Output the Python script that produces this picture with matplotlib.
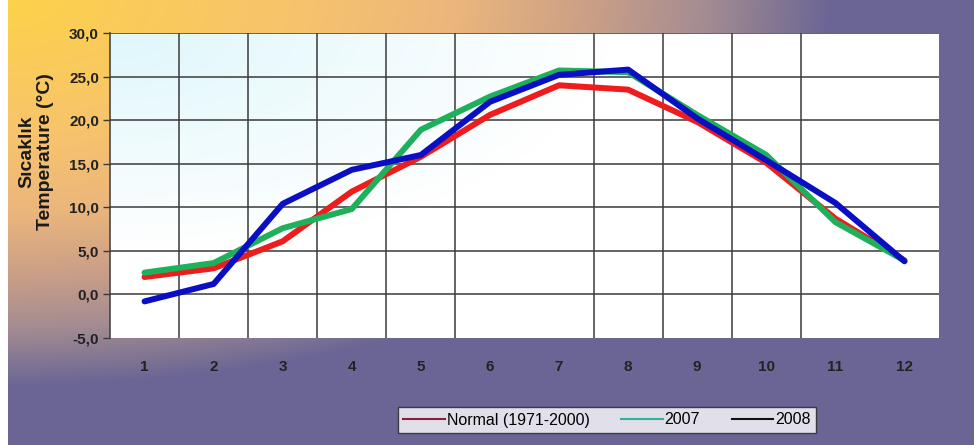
import numpy as np
import matplotlib
matplotlib.use("Agg")
import matplotlib.pyplot as plt
from matplotlib.lines import Line2D

plt.rcParams['font.family'] = ['Liberation Sans', 'DejaVu Sans']

# ---- data ----
months = [1, 2, 3, 4, 5, 6, 7, 8, 9, 10, 11, 12]
month_labels = ["1", "2", "3", "4", "5", "6", "7", "8", "9", "10", "11", "12"]
normal = [2.0, 3.0, 6.1, 11.8, 15.8, 20.6, 24.0, 23.5, 19.8, 15.1, 8.7, 3.9]
y2007 = [2.5, 3.6, 7.6, 9.8, 18.9, 22.7, 25.7, 25.5, 20.6, 16.0, 8.3, 3.9]
y2008 = [-0.8, 1.2, 10.4, 14.3, 16.0, 22.1, 25.2, 25.8, 20.2, 15.4, 10.5, 3.8]
series_names = ["Normal (1971-2000)", "2007", "2008"]
y_ticks = [-5, 0, 5, 10, 15, 20, 25, 30]

W, H = 974, 445
fig = plt.figure(figsize=(W / 100, H / 100), dpi=100)

# ---- background gradient ----
bg = fig.add_axes([0, 0, 1, 1], zorder=-10)
yy, xx = np.mgrid[0:H, 0:W]
t = np.clip(np.sqrt((xx / 830.0) ** 2 + (yy / 385.0) ** 2), 0, 1)
pos = [0.0, 0.35, 0.55, 0.72, 0.85, 0.97, 1.0]
cols = np.array([
    (253, 210, 74), (247, 196, 108), (235, 182, 124), (200, 158, 136),
    (164, 140, 146), (118, 110, 148), (107, 101, 150)]) / 255.0
img = np.zeros((H, W, 3))
for c in range(3):
    img[..., c] = np.interp(t, pos, cols[:, c])
img[:, :8, :] = 1.0
bg.imshow(img, extent=[0, 1, 0, 1], aspect='auto', origin='upper')
bg.set_axis_off()

# ---- main axes ----
ax = fig.add_axes([110 / W, 1 - 338 / H, 829 / W, 305 / H])
ax.set_xlim(0.5, 12.5)
ax.set_ylim(-5, 30)
ax.set_facecolor('white')

# light cyan tint top-left of plot area
ph, pw = 305, 829
py, px = np.mgrid[0:ph, 0:pw]
t2 = np.clip(np.sqrt((px / 500.0) ** 2 + (py / 220.0) ** 2), 0, 1)
tint = np.ones((ph, pw, 4))
tint[..., 0] = 224 / 255
tint[..., 1] = 247 / 255
tint[..., 2] = 252 / 255
tint[..., 3] = 1 - t2
ax.imshow(tint, extent=[0.5, 12.5, -5, 30], aspect='auto', origin='upper', zorder=0)

grid_c = '#3a3a3a'
for v in y_ticks[1:]:
    ax.axhline(v, color=grid_c, lw=1.1, zorder=1)
for b in [1.5, 2.5, 3.5, 4.5, 5.5, 7.5, 8.5, 9.5, 10.5]:
    ax.axvline(b, color=grid_c, lw=1.1, zorder=1)

lw = 4.3
ax.plot(months, normal, color='#ee1c1c', lw=lw, solid_capstyle='round', solid_joinstyle='round', zorder=3)
ax.plot(months, y2007, color='#1eb05a', lw=lw, solid_capstyle='round', solid_joinstyle='round', zorder=4)
ax.plot(months, y2008, color='#0a0fc4', lw=lw, solid_capstyle='round', solid_joinstyle='round', zorder=5)

for s in ['top', 'right', 'bottom']:
    ax.spines[s].set_visible(False)
ax.spines['left'].set_color(grid_c)
ax.spines['left'].set_linewidth(1.1)

ax.set_yticks(y_ticks)
ax.set_yticklabels([f"{v:.1f}".replace('.', ',') for v in y_ticks])
ax.set_xticks(months)
ax.set_xticklabels(month_labels)
ax.tick_params(axis='x', length=0, pad=16, labelsize=11, labelcolor='#222222')
ax.tick_params(axis='y', length=5, width=1, color=grid_c, pad=3, labelsize=11, labelcolor='#222222')
for lab in ax.get_xticklabels() + ax.get_yticklabels():
    lab.set_fontweight('bold')

fig.text(36 / W, 1 - 152 / H, "Sıcaklık\nTemperature (°C)", rotation=90,
         ha='center', va='center', fontsize=14, fontweight='bold',
         linespacing=1.15, multialignment='center', color='#1a1a1a')

handles = [Line2D([], [], color='#8a1f3a', lw=1.5),
           Line2D([], [], color='#2fb39b', lw=1.5),
           Line2D([], [], color='#111111', lw=1.5)]
leg = fig.legend(handles, series_names, loc='center', bbox_to_anchor=(607 / W, 1 - 420 / H),
                 ncol=3, fontsize=11.5, frameon=True, fancybox=False, edgecolor='#222222',
                 handlelength=2.6, handletextpad=0.1, columnspacing=2.0, borderpad=0.35)
leg.get_frame().set_linewidth(1.0)
leg.get_frame().set_facecolor('white')

fig.savefig("out.png", dpi=100)
